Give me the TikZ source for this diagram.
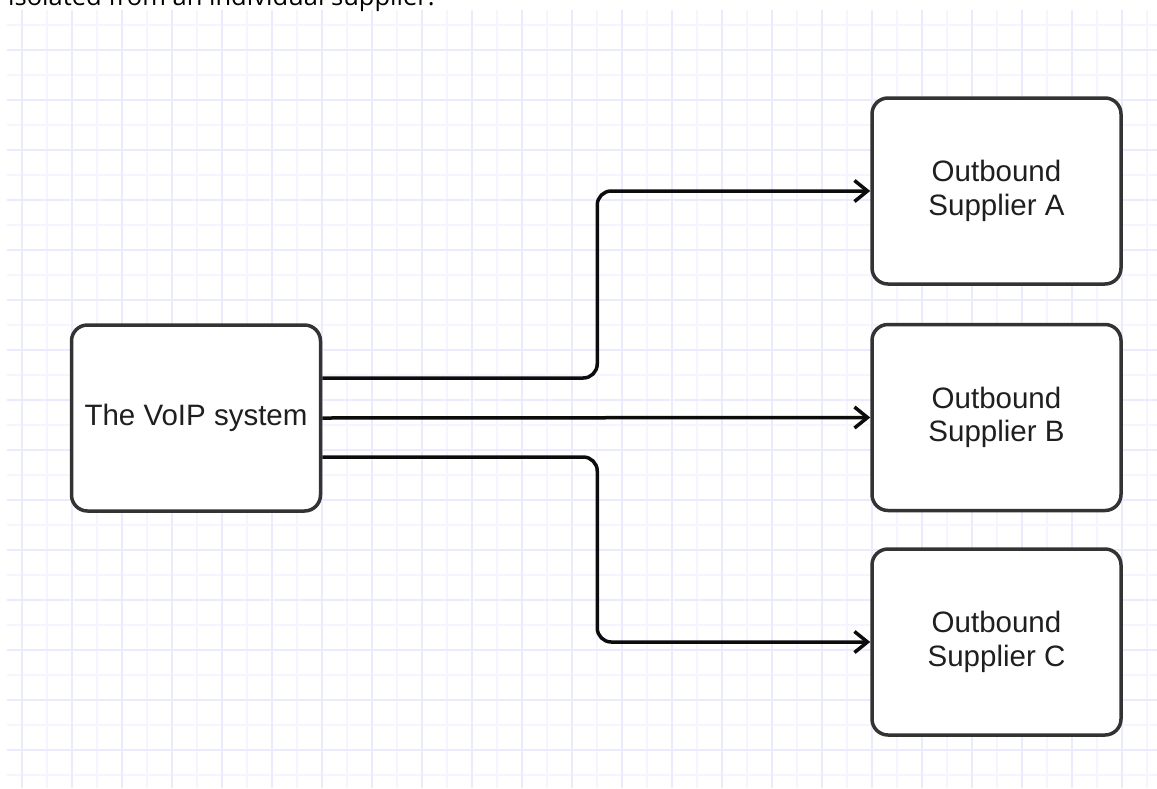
\documentclass[tikz,border=0pt]{standalone}
\usepackage{fontspec}
\setmainfont{Liberation Sans}
\newfontfamily\topfont{Open Sans}
\usetikzlibrary{arrows.meta}
\definecolor{gridminor}{RGB}{245,245,255}
\definecolor{gridmajor}{RGB}{235,235,254}
\definecolor{boxline}{RGB}{51,51,51}
\definecolor{connline}{RGB}{12,12,12}
\tikzset{
  box/.style={draw=boxline, line width=3.5pt, fill=white, rounded corners=16pt,
    minimum width=249pt, minimum height=186pt, inner sep=0pt, align=center,
    font=\fontsize{29.5}{33.5}\selectfont, text=black!88},
  conn/.style={draw=connline, line width=3.5pt, rounded corners=14pt,
    -{Straight Barb[length=13pt,width=21pt,line width=3.5pt]}},
}
\begin{document}
\begin{tikzpicture}[x=1pt,y=-1pt]
\useasboundingbox (0,0) rectangle (1157,788);
\clip (0,0) rectangle (1157,788);
% grid
\foreach \gx in {47,97,...,1147} \draw[gridminor, line width=1.5pt] (\gx,10) -- (\gx,788);
\foreach \gy in {25,75,...,775} \draw[gridminor, line width=1.5pt] (7,\gy) -- (1157,\gy);
\foreach \gx in {22,72,...,1122} \draw[gridmajor, line width=1.5pt] (\gx,10) -- (\gx,788);
\foreach \gy in {50,100,...,750} \draw[gridmajor, line width=1.5pt] (7,\gy) -- (1157,\gy);
% cut-off caption line
\node[anchor=base west, inner sep=0pt, font=\topfont\fontsize{25.5}{29}\selectfont, text=black] (cap) at (8,5) {isolated from an individual supplier.};
% nodes
\node[box] (voip) at (196,418) {The VoIP system};
\node[box] (supA) at (996.5,191) {Outbound\\Supplier A};
\node[box] (supB) at (996.5,417.5) {Outbound\\Supplier B};
\node[box] (supC) at (996.5,642) {Outbound\\Supplier C};
% connectors
\draw[conn] ([yshift=40pt]voip.east) -- ++(275,0) |- (supA.west);
\draw[conn] (voip.east) -- (supB.west);
\draw[conn] ([yshift=-39pt]voip.east) -- ++(275,0) |- (supC.west);
\end{tikzpicture}
\end{document}
